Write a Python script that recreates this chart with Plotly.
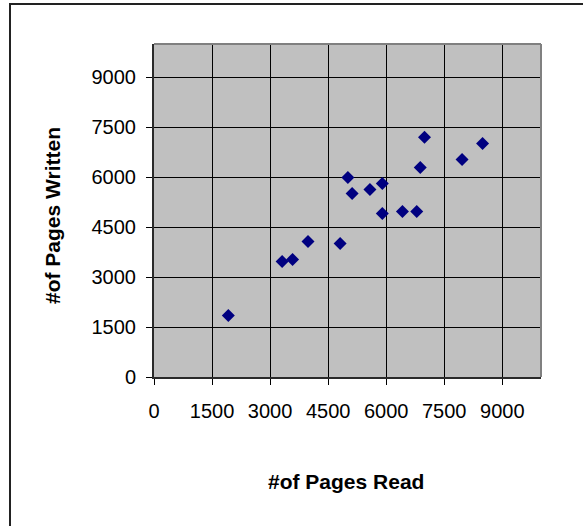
import plotly.graph_objects as go

# Pages read vs. pages written, one point per person
pages_read = [1920, 3310, 3580, 3980, 4810, 5010, 5120, 5580, 5900, 5900,
              6420, 6790, 6880, 6990, 7960, 8490]
pages_written = [1850, 3470, 3530, 4070, 4010, 5990, 5510, 5630, 5810, 4910,
                 4970, 4970, 6290, 7200, 6530, 7010]
tick_values = [0, 1500, 3000, 4500, 6000, 7500, 9000]
x_title = "#of Pages Read"
y_title = "#of Pages Written"

W, H = 583, 526
ML, MR, MT, MB = 154, 42, 44, 149
pw, ph = W - ML - MR, H - MT - MB

def px_to_paper_x(px):
    return (px - ML) / pw

def px_to_paper_y(py):
    return (H - MB - py) / ph

font_family = "Liberation Sans, Arial, sans-serif"

fig = go.Figure(
    go.Scatter(
        x=pages_read,
        y=pages_written,
        mode="markers",
        marker=dict(symbol="diamond", size=10, color="#000080", line=dict(width=0)),
        hoverinfo="x+y",
    )
)

axis_common = dict(
    range=[0, 10000],
    tickmode="array",
    tickvals=tick_values,
    ticktext=[str(v) for v in tick_values],
    showgrid=True,
    gridcolor="#000000",
    gridwidth=1,
    zeroline=False,
    showline=True,
    linecolor="#2a2a2a",
    linewidth=2,
    ticks="outside",
    ticklen=6,
    tickwidth=1,
    tickcolor="#000000",
    tickfont=dict(family=font_family, size=20, color="#000000"),
    fixedrange=True,
)

fig.update_xaxes(**axis_common, ticklabelstandoff=9)
fig.update_yaxes(**axis_common, ticklabelstandoff=6)

shapes = [
    # top and right edge of the plot frame
    dict(type="line", xref="paper", yref="paper", x0=0, x1=1, y0=1, y1=1,
         line=dict(color="#808080", width=2)),
    dict(type="line", xref="paper", yref="paper", x0=1, x1=1, y0=0, y1=1,
         line=dict(color="#808080", width=2)),
    # outer chart frame (runs off the right and bottom edges)
    dict(type="rect", xref="paper", yref="paper",
         x0=px_to_paper_x(10), x1=px_to_paper_x(W + 20),
         y0=px_to_paper_y(H + 20), y1=px_to_paper_y(4),
         line=dict(color="#222222", width=2), fillcolor="rgba(0,0,0,0)", layer="below"),
]

annotations = [
    dict(text=f"<b>{x_title}</b>", xref="paper", yref="paper",
         x=px_to_paper_x(346), y=px_to_paper_y(481), xanchor="center", yanchor="middle",
         showarrow=False, font=dict(family=font_family, size=21, color="#000000")),
    dict(text=f"<b>{y_title}</b>", xref="paper", yref="paper",
         x=px_to_paper_x(52), y=px_to_paper_y(215), xanchor="center", yanchor="middle",
         textangle=-90, showarrow=False,
         font=dict(family=font_family, size=21, color="#000000")),
]

fig.update_layout(
    width=W,
    height=H,
    margin=dict(l=ML, r=MR, t=MT, b=MB, pad=0),
    paper_bgcolor="#ffffff",
    plot_bgcolor="#c0c0c0",
    showlegend=False,
    shapes=shapes,
    annotations=annotations,
)

fig.write_html("out.html", config={"displayModeBar": False})
